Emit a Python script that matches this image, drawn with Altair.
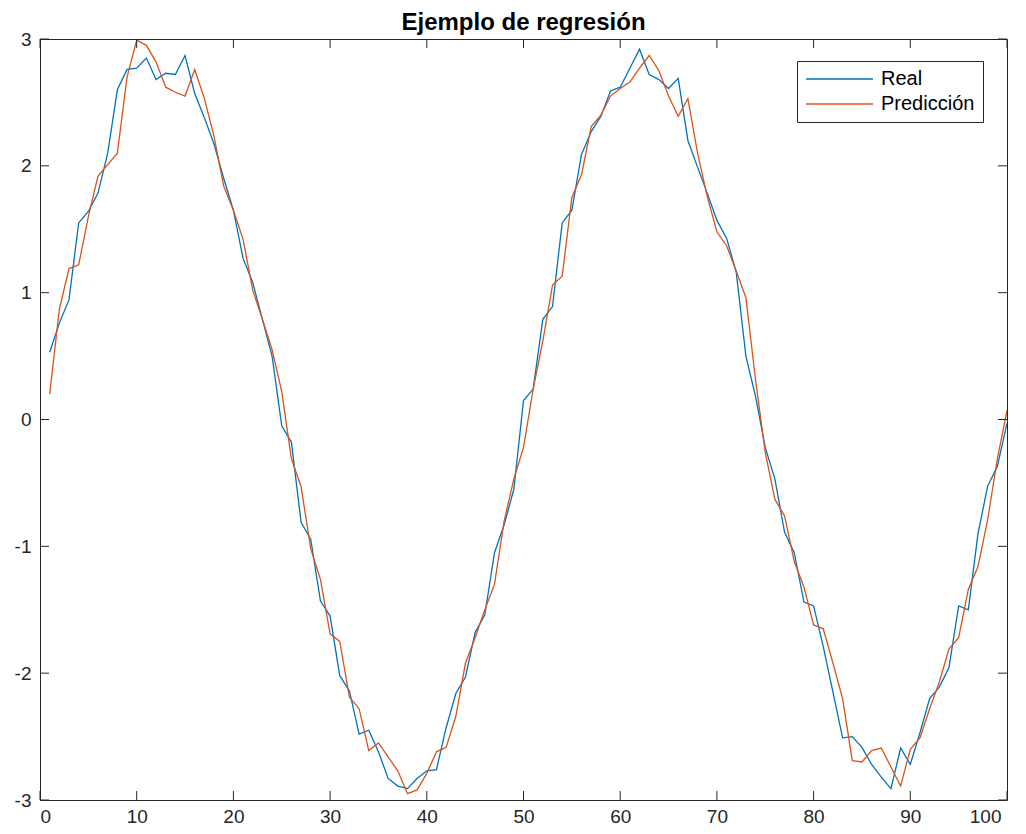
import altair as alt
import pandas as pd

x_vals = list(range(1, 101))

real = [0.53, 0.76, 0.945, 1.55, 1.64, 1.785, 2.10, 2.60, 2.76, 2.77,
        2.85, 2.68, 2.73, 2.72, 2.87, 2.57, 2.38, 2.17, 1.90, 1.65,
        1.27, 1.08, 0.79, 0.50, -0.05, -0.18, -0.81, -0.945, -1.43, -1.55,
        -2.02, -2.14, -2.48, -2.45, -2.62, -2.83, -2.89, -2.91, -2.83, -2.77,
        -2.76, -2.43, -2.16, -2.03, -1.68, -1.54, -1.05, -0.83, -0.55, 0.15,
        0.24, 0.79, 0.89, 1.55, 1.65, 2.09, 2.27, 2.39, 2.59, 2.62,
        2.77, 2.92, 2.72, 2.68, 2.61, 2.69, 2.20, 1.99, 1.785, 1.57,
        1.43, 1.16, 0.50, 0.18, -0.22, -0.47, -0.89, -1.05, -1.44, -1.47,
        -1.79, -2.15, -2.51, -2.50, -2.585, -2.72, -2.82, -2.91, -2.59, -2.72,
        -2.47, -2.20, -2.11, -1.955, -1.47, -1.50, -0.90, -0.525, -0.37, -0.03]

prediccion = [0.20, 0.87, 1.19, 1.22, 1.60, 1.92, 2.01, 2.10, 2.70, 2.99,
              2.95, 2.82, 2.62, 2.58, 2.55, 2.76, 2.53, 2.23, 1.84, 1.65,
              1.42, 1.02, 0.79, 0.55, 0.22, -0.31, -0.53, -1.02, -1.26, -1.69,
              -1.75, -2.19, -2.28, -2.61, -2.55, -2.66, -2.77, -2.95, -2.92, -2.79,
              -2.62, -2.585, -2.34, -1.92, -1.72, -1.50, -1.30, -0.80, -0.47, -0.22,
              0.24, 0.62, 1.06, 1.13, 1.75, 1.93, 2.31, 2.40, 2.55, 2.61,
              2.66, 2.77, 2.87, 2.75, 2.55, 2.39, 2.53, 2.10, 1.76, 1.48,
              1.37, 1.17, 0.96, 0.31, -0.26, -0.63, -0.76, -1.12, -1.32, -1.62,
              -1.65, -1.92, -2.20, -2.69, -2.70, -2.61, -2.59, -2.74, -2.89, -2.60,
              -2.51, -2.28, -2.07, -1.81, -1.72, -1.34, -1.16, -0.79, -0.31, 0.07]

series_names = ["Real", "Predicción"]
series_colors = ["#0072BD", "#D95319"]
x_ticks = [0, 10, 20, 30, 40, 50, 60, 70, 80, 90, 100]
y_ticks = [-3, -2, -1, 0, 1, 2, 3]

W, H = 967, 761
TICK = 9
FONT = "Liberation Sans"
AXC = "#262626"

df = pd.DataFrame({
    "x": x_vals * 2,
    "y": real + prediccion,
    "serie": [series_names[0]] * len(real) + [series_names[1]] * len(prediccion),
})
dfx = pd.DataFrame({"t": x_ticks})
dfy = pd.DataFrame({"t": y_ticks})

xscale = alt.Scale(domain=[0, 100], nice=False, zero=False)
yscale = alt.Scale(domain=[-3, 3], nice=False, zero=False)

axis_common = dict(title=None, labelExpr="'' + datum.value", grid=False,
                   ticks=False, tickSize=0, domain=False, labelFont=FONT,
                   labelFontSize=19, labelColor=AXC)

lines = alt.Chart(df).mark_line(strokeWidth=1.3, clip=True).encode(
    x=alt.X("x:Q", scale=xscale,
            axis=alt.Axis(values=x_ticks, labelPadding=7,
                          labelOffset={"condition": {"test": "datum.value === 100",
                                                     "value": -6},
                                       "value": 0},
                          **axis_common)),
    y=alt.Y("y:Q", scale=yscale,
            axis=alt.Axis(values=y_ticks, labelPadding=9, **axis_common)),
    color=alt.Color("serie:N",
                    scale=alt.Scale(domain=series_names, range=series_colors),
                    sort=series_names,
                    title=None,
                    legend=alt.Legend(orient="none", legendX=757, legendY=22,
                                      symbolType="stroke", symbolSize=4489,
                                      symbolStrokeWidth=1.3, clipHeight=20,
                                      rowPadding=5, padding=8, labelOffset=7,
                                      strokeColor=AXC, fillColor="white",
                                      labelFont=FONT, labelFontSize=20,
                                      labelColor="black")),
)

tick_style = dict(color=AXC, strokeWidth=1)

bottom_ticks = alt.Chart(dfx).mark_rule(**tick_style).encode(
    x=alt.X("t:Q", scale=xscale), y=alt.value(H), y2=alt.value(H - TICK))
top_ticks = alt.Chart(dfx).mark_rule(**tick_style).encode(
    x=alt.X("t:Q", scale=xscale), y=alt.value(0), y2=alt.value(TICK))
left_ticks = alt.Chart(dfy).mark_rule(**tick_style).encode(
    y=alt.Y("t:Q", scale=yscale), x=alt.value(0), x2=alt.value(TICK))
right_ticks = alt.Chart(dfy).mark_rule(**tick_style).encode(
    y=alt.Y("t:Q", scale=yscale), x=alt.value(W), x2=alt.value(W - TICK))

chart = alt.layer(lines, bottom_ticks, top_ticks, left_ticks, right_ticks).properties(
    width=W, height=H,
    background="white",
    title=alt.Title("Ejemplo de regresión", font=FONT, fontSize=24,
                    fontWeight="bold", color="black", anchor="middle",
                    offset=10, dy=34, baseline="alphabetic", frame="group"),
    autosize=alt.AutoSizeParams(type="none"),
    padding={"left": 32, "top": 31, "right": 11, "bottom": 26},
).configure_view(
    stroke=AXC, strokeWidth=1
)

chart.save("out.html", embed_options={"renderer": "svg", "actions": False})
